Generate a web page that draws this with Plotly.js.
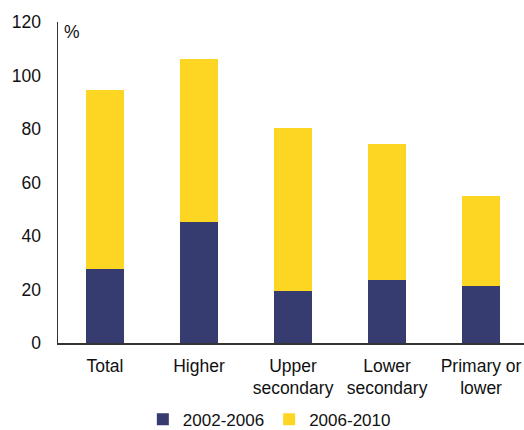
<!DOCTYPE html>
<html>
<head>
<meta charset="utf-8">
<script src="https://cdn.plot.ly/plotly-3.0.1.min.js"></script>
<style>
  html, body { margin: 0; padding: 0; background: #ffffff; }
  #chart { width: 524px; height: 430px; }
</style>
</head>
<body>
<div id="chart"></div>
<script>
// Education levels along the x axis
const categories = ['Total', 'Higher', 'Upper<br>secondary', 'Lower<br>secondary', 'Primary or<br>lower'];
// Stacked segments, in %
const period1Name = '2002-2006';
const period1 = [27.8, 45.1, 19.6, 23.7, 21.2];
const period2Name = '2006-2010';
const period2 = [66.7, 61.1, 60.9, 50.6, 33.9];

const navy = '#363C70';
const yellow = '#FDD624';
const fontFamily = 'Liberation Sans, Arial, sans-serif';
const textColor = '#111111';

const traces = [
  { type: 'bar', name: period1Name, x: categories, y: period1,
    marker: { color: navy }, hoverinfo: 'skip' },
  { type: 'bar', name: period2Name, x: categories, y: period2,
    marker: { color: yellow }, hoverinfo: 'skip' }
];

const layout = {
  width: 524, height: 430,
  margin: { l: 58, r: 0, t: 22, b: 87 },
  barmode: 'stack',
  bargap: 0.6,
  paper_bgcolor: '#ffffff',
  plot_bgcolor: '#ffffff',
  font: { family: fontFamily, size: 17, color: textColor },
  xaxis: {
    type: 'category',
    range: [-0.5, 4.457],
    showline: true, linecolor: '#333333', linewidth: 1.5,
    ticks: '', showgrid: false, zeroline: false,
    tickangle: 0,
    ticklabelstandoff: 6,
    tickfont: { size: 17.5, color: textColor }
  },
  yaxis: {
    range: [0, 120],
    dtick: 20,
    showline: true, linecolor: '#333333', linewidth: 1.5,
    ticks: '', showgrid: false, zeroline: false,
    ticklabelstandoff: 12,
    tickfont: { size: 17.5, color: textColor }
  },
  showlegend: true,
  legend: {
    orientation: 'h',
    xref: 'container', yref: 'container',
    x: 0.514, xanchor: 'center',
    y: 0.024, yanchor: 'middle',
    font: { size: 17, color: textColor },
    itemwidth: 30,
    traceorder: 'normal'
  },
  annotations: [
    { text: '%', xref: 'paper', yref: 'paper', x: 0, y: 1,
      xanchor: 'left', yanchor: 'top', xshift: 4, yshift: 2,
      showarrow: false, font: { size: 17.5, color: textColor } }
  ]
};

Plotly.newPlot('chart', traces, layout, { displayModeBar: false, staticPlot: true });
</script>
</body>
</html>
